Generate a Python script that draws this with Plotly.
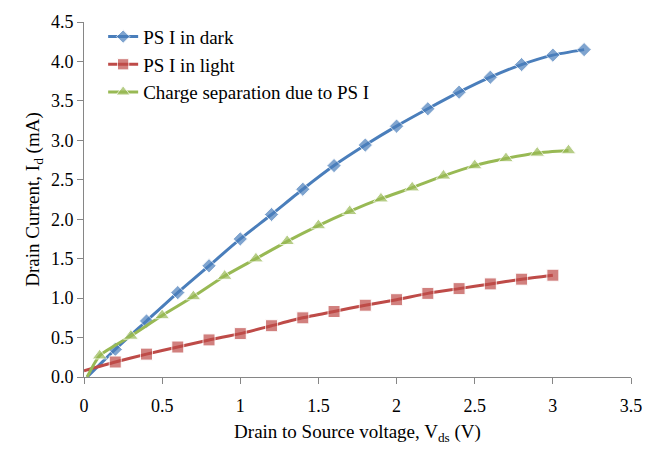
import plotly.graph_objects as go

x_dark = [0.02, 0.2, 0.4, 0.6, 0.8, 1.0, 1.2, 1.4, 1.6, 1.8, 2.0, 2.2, 2.4, 2.6, 2.8, 3.0, 3.2]
y_dark = [0.0, 0.35, 0.71, 1.07, 1.41, 1.75, 2.06, 2.38, 2.68, 2.94, 3.18, 3.40, 3.61, 3.80, 3.96, 4.08, 4.15]

x_light = [0.0, 0.2, 0.4, 0.6, 0.8, 1.0, 1.2, 1.4, 1.6, 1.8, 2.0, 2.2, 2.4, 2.6, 2.8, 3.0]
y_light = [0.08, 0.19, 0.29, 0.38, 0.47, 0.55, 0.65, 0.75, 0.83, 0.91, 0.98, 1.06, 1.12, 1.18, 1.24, 1.29]

x_charge = [0.02, 0.1, 0.3, 0.5, 0.7, 0.9, 1.1, 1.3, 1.5, 1.7, 1.9, 2.1, 2.3, 2.5, 2.7, 2.9, 3.1]
y_charge = [0.0, 0.27, 0.52, 0.78, 1.02, 1.28, 1.50, 1.72, 1.92, 2.10, 2.26, 2.40, 2.55, 2.68, 2.77, 2.84, 2.87]

names = ["PS I in dark", "PS I in light", "Charge separation due to PS I"]

x_ticks = [0, 0.5, 1, 1.5, 2, 2.5, 3, 3.5]
x_labels = ["0", "0.5", "1", "1.5", "2", "2.5", "3", "3.5"]
y_ticks = [0, 0.5, 1, 1.5, 2, 2.5, 3, 3.5, 4, 4.5]
y_labels = ["0.0", "0.5", "1.0", "1.5", "2.0", "2.5", "3.0", "3.5", "4.0", "4.5"]

FONT = "Liberation Serif"

fig = go.Figure()
fig.add_trace(go.Scatter(
    x=x_dark, y=y_dark, name=names[0], mode="lines+markers",
    line=dict(color="#4A7EBB", width=3, shape="spline", smoothing=0.6),
    marker=dict(symbol="diamond", size=[0] + [11] * (len(x_dark) - 1), color="#4A7EBB"),
))
fig.add_trace(go.Scatter(
    x=x_light, y=y_light, name=names[1], mode="lines+markers",
    line=dict(color="#BE4B48", width=3, shape="spline", smoothing=0.6),
    marker=dict(symbol="square", size=[0] + [12] * (len(x_light) - 1), color="#BE4B48"),
))
fig.add_trace(go.Scatter(
    x=x_charge, y=y_charge, name=names[2], mode="lines+markers",
    line=dict(color="#98B954", width=3, shape="spline", smoothing=0.6),
    marker=dict(symbol="triangle-up", size=[0] + [13] * (len(x_charge) - 1), color="#98B954"),
))

fig.update_layout(
    width=654, height=451,
    margin=dict(l=84, r=13, t=15, b=74),
    paper_bgcolor="white", plot_bgcolor="white",
    font=dict(family=FONT, size=18, color="black"),
    showlegend=True,
    legend=dict(x=0.035, y=1.012, xanchor="left", yanchor="top",
                bgcolor="rgba(0,0,0,0)", font=dict(family=FONT, size=19, color="black"),
                tracegroupgap=0, itemwidth=30),
    xaxis=dict(range=[0, 3.5], tickvals=x_ticks, ticktext=x_labels,
               showgrid=False, zeroline=False, showline=True, linecolor="#868686",
               linewidth=1, ticks="outside", ticklen=6, tickcolor="#868686",
               tickfont=dict(family=FONT, size=18, color="black"), ticklabelstandoff=6,
               title=dict(text="Drain to Source voltage, V<sub>ds</sub> (V)",
                          font=dict(family=FONT, size=19, color="black"), standoff=10)),
    yaxis=dict(range=[0, 4.5], tickvals=y_ticks, ticktext=y_labels,
               showgrid=False, zeroline=False, showline=True, linecolor="#868686",
               linewidth=1, ticks="outside", ticklen=6, tickcolor="#868686",
               tickfont=dict(family=FONT, size=18, color="black"),
               title=dict(text="Drain Current, I<sub>d</sub> (mA)",
                          font=dict(family=FONT, size=19, color="black"), standoff=6)),
)

fig.write_html("out.html")
